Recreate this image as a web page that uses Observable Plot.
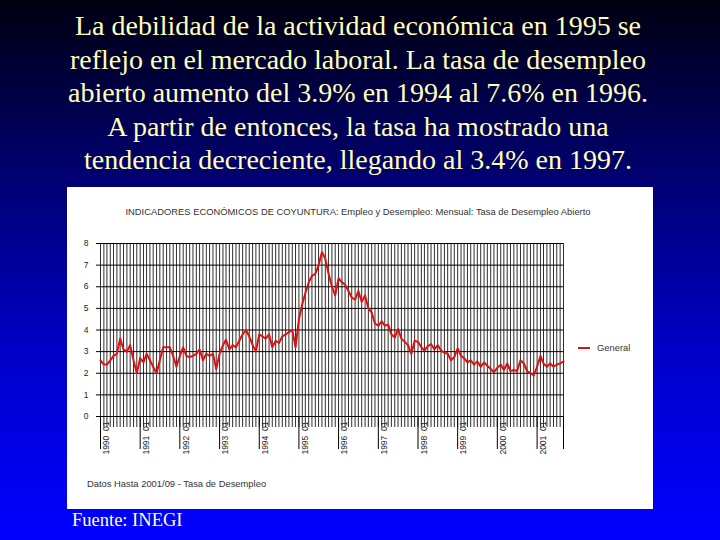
<!DOCTYPE html>
<html>
<head>
<meta charset="utf-8">
<script src="https://cdn.jsdelivr.net/npm/d3@7"></script>
<script src="https://cdn.jsdelivr.net/npm/@observablehq/plot@0.6"></script>
<style>
  html, body { margin: 0; padding: 0; }
  body {
    width: 720px; height: 540px; overflow: hidden; position: relative;
    background: linear-gradient(to bottom, #000010 0%, #00006a 30%, #0000c8 65%, #0000f2 90%, #0000ff 100%);
  }
  #headline {
    position: absolute; left: 0; top: 9px; width: 716px; text-align: center;
    font-family: "Liberation Serif", "Times New Roman", serif; font-size: 28px; line-height: 33.5px;
    color: #ffffb8;
  }
  #box {
    position: absolute; left: 67px; top: 187px; width: 586px; height: 322px; background: #fff;
  }
  #box svg { position: absolute; left: 0; top: 0; }
  #ctitle {
    position: absolute; left: 0; top: 19px; width: 582px; text-align: center;
    font-family: "Liberation Sans", Arial, sans-serif; font-size: 9.4px; color: #333;
  }
  #legend {
    position: absolute; left: 511px; top: 155px;
    font-family: "Liberation Sans", Arial, sans-serif; font-size: 9.4px; color: #333;
    display: flex; align-items: center;
  }
  #legend span.sw { display: inline-block; width: 12px; height: 2px; background: #e01010; margin-right: 7px; }
  #footer {
    position: absolute; left: 20px; top: 291px;
    font-family: "Liberation Sans", Arial, sans-serif; font-size: 9.4px; color: #333;
  }
  #source {
    position: absolute; left: 72px; top: 510px;
    font-family: "Liberation Serif", "Times New Roman", serif; font-size: 18.5px; color: #ffffc8;
  }
</style>
</head>
<body>
<div id="headline">La debilidad de la actividad económica en 1995 se<br>reflejo en el mercado laboral. La tasa de desempleo<br>abierto aumento del 3.9% en 1994 al 7.6% en 1996.<br>A partir de entonces, la tasa ha mostrado una<br>tendencia decreciente, llegando al 3.4% en 1997.</div>
<div id="box">
  <div id="chart"></div>
  <div id="ctitle">INDICADORES ECONÓMICOS DE COYUNTURA: Empleo y Desempleo: Mensual: Tasa de Desempleo Abierto</div>
  <div id="legend"><span class="sw"></span>General</div>
  <div id="footer">Datos Hasta 2001/09 - Tasa de Desempleo</div>
</div>
<div id="source">Fuente: INEGI</div>
<script>
// Monthly open unemployment rate (%), January 1990 – September 2001
const years = [1990, 1991, 1992, 1993, 1994, 1995, 1996, 1997, 1998, 1999, 2000, 2001];
const y1990 = [2.6, 2.4, 2.4, 2.6, 2.8, 2.9, 3.6, 3.1, 3.0, 3.3, 2.6, 2.0];
const y1991 = [2.7, 2.5, 2.9, 2.6, 2.3, 2.0, 2.6, 3.2, 3.2, 3.2, 2.8, 2.3];
const y1992 = [2.8, 3.2, 2.8, 2.75, 2.8, 2.9, 3.1, 2.6, 2.9, 2.8, 2.9, 2.2];
const y1993 = [2.9, 3.3, 3.55, 3.1, 3.3, 3.2, 3.5, 3.8, 4.0, 3.7, 3.3, 3.0];
const y1994 = [3.8, 3.7, 3.6, 3.8, 3.2, 3.5, 3.4, 3.7, 3.8, 3.9, 4.0, 3.2];
const y1995 = [4.5, 5.2, 5.7, 6.2, 6.5, 6.6, 7.0, 7.6, 7.3, 6.6, 6.0, 5.6];
const y1996 = [6.4, 6.2, 6.1, 5.8, 5.5, 5.4, 5.8, 5.3, 5.6, 5.0, 4.8, 4.3];
const y1997 = [4.2, 4.4, 4.2, 4.25, 3.8, 3.65, 4.05, 3.6, 3.45, 3.3, 2.9, 3.5];
const y1998 = [3.45, 3.2, 3.05, 3.25, 3.35, 3.1, 3.3, 3.05, 2.95, 2.9, 2.6, 2.75];
const y1999 = [3.15, 2.8, 2.7, 2.5, 2.6, 2.4, 2.55, 2.3, 2.5, 2.35, 2.2, 2.05];
const y2000 = [2.25, 2.4, 2.15, 2.45, 2.1, 2.15, 2.1, 2.6, 2.45, 2.1, 2.0, 1.9];
const y2001 = [2.3, 2.8, 2.45, 2.3, 2.45, 2.3, 2.4, 2.45, 2.55];
const seriesByYear = [y1990, y1991, y1992, y1993, y1994, y1995, y1996, y1997, y1998, y1999, y2000, y2001];
const seriesName = "General";
const yTicks = [0, 1, 2, 3, 4, 5, 6, 7, 8];

const data = [];
seriesByYear.forEach((vals, i) => {
  vals.forEach((v, m) => data.push({date: new Date(Date.UTC(years[i], m, 1)), value: v, series: seriesName}));
});
const start = data[0].date, end = data[data.length - 1].date;
const monthTicks = d3.utcMonths(start, d3.utcDay.offset(end, 1));
const yearTicks = years.map(y => new Date(Date.UTC(y, 0, 1)));
const longTicks = [...yearTicks, end];

const chart = Plot.plot({
  width: 586, height: 322,
  marginLeft: 33, marginRight: 90, marginTop: 56, marginBottom: 93,
  style: {background: "transparent", fontFamily: "'Liberation Sans', Arial, sans-serif", fontSize: "8.5px", color: "#222", overflow: "visible"},
  x: {type: "utc", domain: [start, end], label: null},
  y: {domain: [0, 8], label: null},
  marks: [
    Plot.gridX(monthTicks, {stroke: "#000", strokeOpacity: 0.82, strokeWidth: 1}),
    Plot.gridY(yTicks, {stroke: "#000", strokeOpacity: 1, strokeWidth: 1}),
    Plot.axisY(yTicks, {tickSize: 4, tickPadding: 8, stroke: "#000", tickFormat: d => String(d), fill: "#222"}),
    Plot.axisX(monthTicks, {tickSize: 11, stroke: "#000", strokeOpacity: 0.82, tickFormat: () => "", fill: "none"}),
    Plot.axisX(longTicks, {tickSize: 33, stroke: "#000", tickFormat: () => "", fill: "none"}),
    Plot.axisX(yearTicks, {tickSize: 0, tickPadding: 5, tickRotate: -90, dx: 6, tickFormat: d3.utcFormat("%Y  01"), fill: "#222"}),
    Plot.line(data, {x: "date", y: "value", stroke: "#e01010", strokeWidth: 2, curve: "linear"})
  ]
});
document.getElementById("chart").appendChild(chart);
</script>
</body>
</html>
